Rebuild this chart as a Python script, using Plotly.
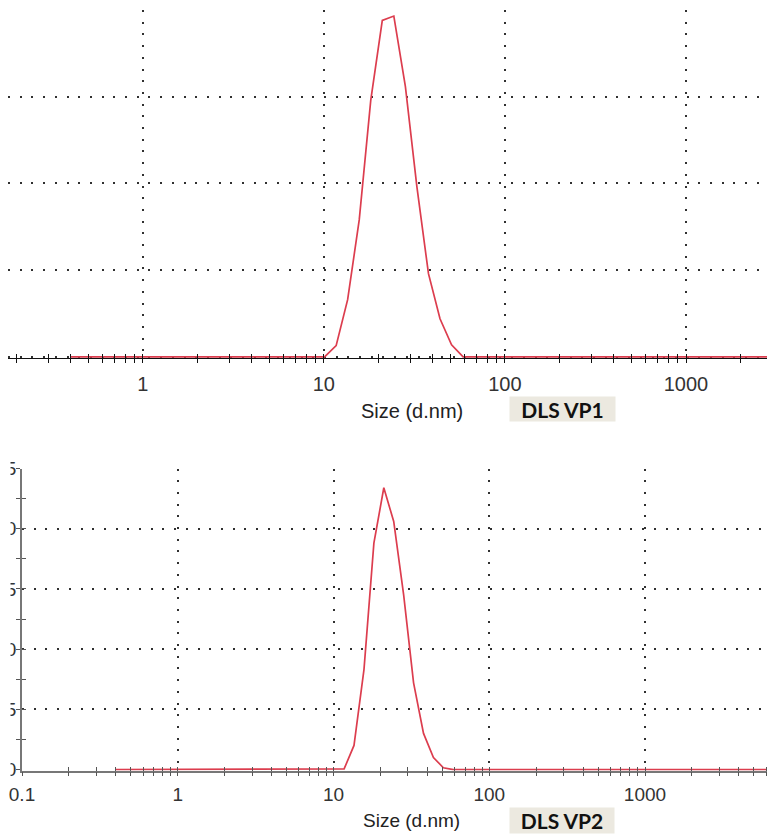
import plotly.graph_objects as go

# Zetasizer size bins (d.nm)
sizes = [0.4, 0.4632, 0.5365, 0.6213, 0.7195, 0.8332, 0.9649, 1.117, 1.294, 1.499,
         1.736, 2.010, 2.328, 2.696, 3.122, 3.615, 4.187, 4.849, 5.615, 6.503,
         7.531, 8.721, 10.10, 11.70, 13.54, 15.69, 18.17, 21.04, 24.36, 28.21,
         32.67, 37.84, 43.82, 50.75, 58.77, 68.06, 78.82, 91.28, 105.7, 122.4,
         141.8, 164.2, 190.1, 220.2, 255.0, 295.3, 342.0, 396.1, 458.7, 531.2,
         615.1, 712.4, 825.0, 955.4, 1106, 1281, 1484, 1718, 1990, 2305,
         2669, 3091, 3580, 4145, 4801, 5560, 6439, 7456, 8635, 10000]

# Intensity (%) for each bin
vp1 = [0, 0, 0, 0, 0, 0, 0, 0, 0, 0,
       0, 0, 0, 0, 0, 0, 0, 0, 0, 0,
       0, 0, 0, 0.65, 3.3, 7.9, 14.8, 19.4, 19.65, 15.6,
       9.8, 4.8, 2.2, 0.7, 0, 0, 0, 0, 0, 0,
       0, 0, 0, 0, 0, 0, 0, 0, 0, 0,
       0, 0, 0, 0, 0, 0, 0, 0, 0, 0,
       0, 0, 0, 0, 0, 0, 0, 0, 0, 0]

vp2 = [0, 0, 0, 0, 0, 0, 0, 0, 0, 0,
       0, 0, 0, 0, 0, 0, 0, 0, 0, 0,
       0, 0, 0, 0.05, 2.0, 8.3, 18.8, 23.4, 20.6, 14.5,
       7.2, 3.0, 1.0, 0.15, 0, 0, 0, 0, 0, 0,
       0, 0, 0, 0, 0, 0, 0, 0, 0, 0,
       0, 0, 0, 0, 0, 0, 0, 0, 0, 0,
       0, 0, 0, 0, 0, 0, 0, 0, 0, 0]

y_ticks_top = [0, 5, 10, 15, 20]
y_ticks_bot = [0, 5, 10, 15, 20, 25]
x_title = "Size (d.nm)"
label_top = "DLS VP1"
label_bot = "DLS VP2"

# the page body adds an 8px margin; the figure fills the rest of the window
OFF = 8
W, H = 775 - OFF, 834 - OFF
def px(v):
    return (v - OFF) / W
def py(v):
    return 1 - (v - OFF) / H

RED = "#dc3d4e"
GRID = "#303030"
DOT = "2px,9.7px"
FONT = "Liberation Sans, Arial, sans-serif"

fig = go.Figure()
fig.add_trace(go.Scatter(x=sizes, y=vp1, xaxis="x", yaxis="y", mode="lines",
                         line=dict(color=RED, width=1.7), hoverinfo="skip"))
fig.add_trace(go.Scatter(x=sizes, y=vp2, xaxis="x2", yaxis="y2", mode="lines",
                         line=dict(color=RED, width=1.7), hoverinfo="skip"))
# empty traces so the overlay tick axes exist
fig.add_trace(go.Scatter(x=[], y=[], xaxis="x3", yaxis="y", hoverinfo="skip"))
fig.add_trace(go.Scatter(x=[], y=[], xaxis="x4", yaxis="y2", hoverinfo="skip"))
fig.add_trace(go.Scatter(x=[], y=[], xaxis="x2", yaxis="y3", hoverinfo="skip"))

top_xrange = [(OFF - 142.7) / 181.1, (775 - 142.7) / 181.1]
bot_xrange = [-1, -1 + (775 - 22) / 155.75]
top_yrange = [-0.06, 20]
bot_yrange = [-0.08, 25]
top_dom = [py(358), py(10)]
bot_dom = [py(770.5), py(468.5)]
bot_xdom = [px(22), 1]

common_x = dict(type="log", dtick=1, tick0=0, zeroline=False, layer="below traces",
                automargin=False)

fig.update_layout(
    template="none",
    width=W, height=H,
    margin=dict(l=0, r=0, t=0, b=0, pad=0),
    paper_bgcolor="white", plot_bgcolor="white",
    showlegend=False,
    xaxis=dict(**common_x, domain=[0, 1], range=top_xrange, anchor="y",
               tickfont=dict(family=FONT, size=20, color="#333"), ticklabelstandoff=4,
               showline=True, linecolor="#111", linewidth=1,
               ticks="outside", ticklen=4, tickcolor="#111", tickwidth=1,
               minor=dict(dtick="D1", ticks="outside", ticklen=4, tickcolor="#111", tickwidth=1, showgrid=False),
               showgrid=True, gridcolor=GRID, griddash=DOT, gridwidth=1.6),
    xaxis3=dict(type="log", dtick=1, tick0=0, range=top_xrange, overlaying="x", anchor="y",
                automargin=False,
                showline=False, showgrid=False, showticklabels=False, zeroline=False,
                ticks="inside", ticklen=4, tickcolor="#111", tickwidth=1,
                minor=dict(dtick="D1", ticks="inside", ticklen=4, tickcolor="#111", tickwidth=1, showgrid=False)),
    yaxis=dict(domain=top_dom, range=top_yrange, anchor="x", tickvals=y_ticks_top,
               automargin=False,
               showticklabels=False, ticks="", showline=False, zeroline=False,
               showgrid=True, gridcolor=GRID, griddash=DOT, gridwidth=1.6),
    xaxis2=dict(**common_x, domain=bot_xdom, range=bot_xrange, anchor="y2",
                tickfont=dict(family=FONT, size=19, color="#333"), ticklabelstandoff=2,
                showline=True, linecolor="#777", linewidth=1.5,
                ticks="outside", ticklen=4, tickcolor="#555", tickwidth=1,
                minor=dict(dtick="D1", ticks="outside", ticklen=4, tickcolor="#555", tickwidth=1, showgrid=False),
                showgrid=True, gridcolor=GRID, griddash=DOT, gridwidth=1.6),
    xaxis4=dict(type="log", dtick=1, tick0=0, domain=bot_xdom, range=bot_xrange, overlaying="x2", anchor="y2",
                automargin=False,
                showline=False, showgrid=False, showticklabels=False, zeroline=False,
                ticks="inside", ticklen=4, tickcolor="#555", tickwidth=1,
                minor=dict(dtick="D1", ticks="inside", ticklen=4, tickcolor="#555", tickwidth=1, showgrid=False)),
    yaxis2=dict(domain=bot_dom, range=bot_yrange, anchor="x2", tickvals=y_ticks_bot,
                automargin=False, ticklabelstandoff=-4,
                showline=True, linecolor="#777", linewidth=2, zeroline=False, layer="below traces",
                ticks="outside", ticklen=4, tickcolor="#555", tickwidth=1,
                minor=dict(dtick=2.5, tick0=0, ticks="outside", ticklen=4, tickcolor="#555", tickwidth=1, showgrid=False),
                tickfont=dict(family=FONT, size=19, color="#333"),
                showgrid=True, gridcolor=GRID, griddash=DOT, gridwidth=1.6),
    yaxis3=dict(domain=bot_dom, range=bot_yrange, overlaying="y2", anchor="x2", tickvals=y_ticks_bot,
                automargin=False,
                showline=False, showgrid=False, showticklabels=False, zeroline=False,
                ticks="inside", ticklen=4, tickcolor="#555", tickwidth=1,
                minor=dict(dtick=2.5, tick0=0, ticks="inside", ticklen=4, tickcolor="#555", tickwidth=1, showgrid=False)),
)

fig.add_annotation(text=x_title, xref="paper", yref="paper", x=px(412), y=py(411),
                   xanchor="center", yanchor="middle",
                   showarrow=False, font=dict(family=FONT, size=20, color="#222"))
fig.add_annotation(text=x_title, xref="paper", yref="paper", x=px(411), y=py(820),
                   xanchor="center", yanchor="middle",
                   showarrow=False, font=dict(family=FONT, size=19, color="#222"))
fig.add_annotation(text="<b>%s</b>" % label_top, xref="paper", yref="paper", x=px(562.5), y=py(408.7),
                   xanchor="center", yanchor="middle",
                   showarrow=False, bgcolor="#ECE9E0", width=105, height=24, borderpad=0,
                   font=dict(family="Lato, sans-serif", size=21, color="#111"))
fig.add_annotation(text="<b>%s</b>" % label_bot, xref="paper", yref="paper", x=px(561.5), y=py(820),
                   xanchor="center", yanchor="middle",
                   showarrow=False, bgcolor="#ECE9E0", width=104, height=25, borderpad=0,
                   font=dict(family="Lato, sans-serif", size=21, color="#111"))

# the source image is cropped just left of the lower chart's y labels
fig.add_shape(type="rect", xref="paper", yref="paper", x0=0, x1=px(10.5), y0=py(782), y1=py(455),
              fillcolor="white", line=dict(width=0), layer="above")

fig.write_html("out.html")
